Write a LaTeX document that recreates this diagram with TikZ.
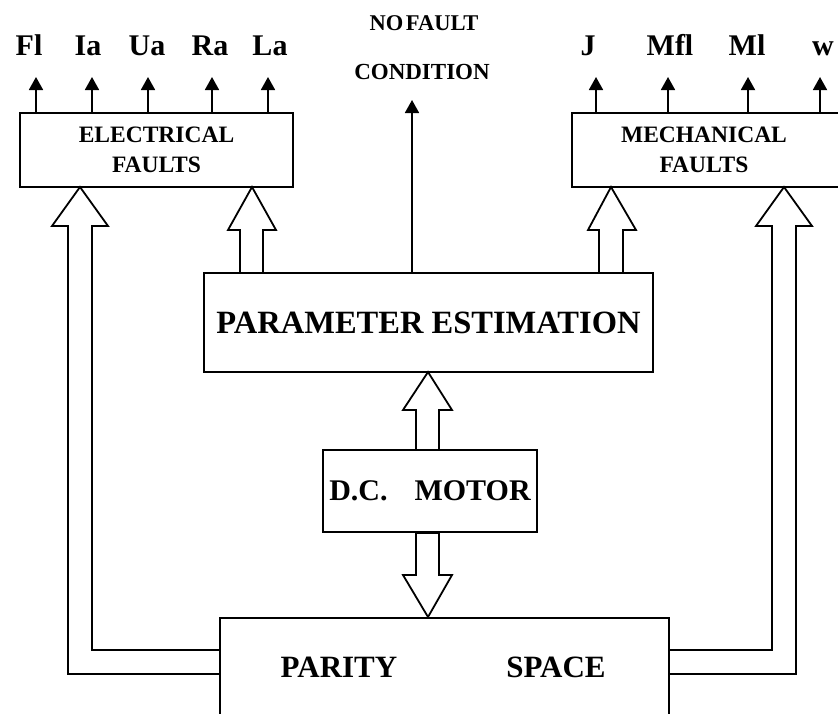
\documentclass[tikz,border=0pt]{standalone}
\usepackage{fontspec}
\setmainfont{Liberation Serif}
\usetikzlibrary{arrows.meta}
\tikzset{
  box/.style={draw, line width=1.8pt, inner sep=0pt, align=center, font=\bfseries},
  lbl/.style={inner sep=0pt, anchor=base, font=\bfseries\fontsize{30}{36}\selectfont},
  smallarr/.style={line width=1.8pt, -{Triangle[length=13pt,width=14pt]}},
  hollow/.style={line width=1.8pt, line join=miter},
}
\begin{document}
\begin{tikzpicture}[x=1pt,y=-1pt]
\useasboundingbox (0,0) rectangle (838,713);
% boxes
\node[box, minimum width=273pt, minimum height=74pt, font=\bfseries\fontsize{23.5}{30}\selectfont] (elec) at (156.5,150) {ELECTRICAL\\FAULTS};
\node[box, minimum width=284pt, minimum height=74pt] (mech) at (714,150) {};
\node[align=center, inner sep=0pt, font=\bfseries\fontsize{23.5}{30}\selectfont] (mechtxt) at (704,150) {MECHANICAL\\FAULTS};
\node[box, minimum width=449pt, minimum height=99pt, font=\bfseries\fontsize{32.5}{38}\selectfont] (param) at (428.5,322.5) {PARAMETER ESTIMATION};
\node[box, minimum width=214pt, minimum height=82pt, font=\bfseries\fontsize{30}{36}\selectfont] (motor) at (430,491) {D.C.\hspace{0.9em}MOTOR};
\node[box, minimum width=449pt, minimum height=130pt] (parity) at (444.5,683) {};
\node[inner sep=0pt, font=\bfseries\fontsize{31}{36}\selectfont] (tpar) at (339,667) {PARITY};
\node[inner sep=0pt, font=\bfseries\fontsize{31}{36}\selectfont] (tspa) at (556,667) {SPACE};
% top labels
\node[lbl] (lFl) at (29,55) {Fl};
\node[lbl] (lIa) at (88,55) {Ia};
\node[lbl] (lUa) at (147,55) {Ua};
\node[lbl] (lRa) at (210,55) {Ra};
\node[lbl] (lLa) at (270,55) {La};
\node[lbl] (lJ) at (588,55) {J};
\node[lbl] (lMfl) at (670,55) {Mfl};
\node[lbl] (lMl) at (747,55) {Ml};
\node[lbl] (lw) at (823,55) {w};
\node[inner sep=0pt, font=\bfseries\fontsize{22.5}{28}\selectfont] (nf1) at (424,23) {NO\hspace{0.12em}FAULT};
\node[inner sep=0pt, font=\bfseries\fontsize{23}{28}\selectfont] (nf2) at (422,72) {CONDITION};
% small arrows
\foreach \x in {36,92,148,212,268}
  \draw[smallarr] (elec.north -| \x,0) -- (\x,77);
\foreach \x in {596,668,748,820}
  \draw[smallarr] (mech.north -| \x,0) -- (\x,77);
\coordinate (nftip) at (412,100);
\draw[smallarr] (param.north -| nftip) -- (nftip);
% hollow arrows: parity -> electrical
\draw[hollow] (parity.west |- 0,650) -- (92,650) -- (92,226) -- (108,226) -- (80,187) -- (52,226) -- (68,226) -- (68,674) -- (parity.west |- 0,674);
% parity -> mechanical
\draw[hollow] (parity.east |- 0,650) -- (772,650) -- (772,226) -- (756,226) -- (784,187) -- (812,226) -- (796,226) -- (796,674) -- (parity.east |- 0,674);
% parameter -> electrical
\draw[hollow] (param.north -| 240,0) -- (240,230) -- (228,230) -- (252,187) -- (276,230) -- (263,230) -- (param.north -| 263,0);
% parameter -> mechanical
\draw[hollow] (param.north -| 599,0) -- (599,230) -- (588,230) -- (611,187) -- (636,230) -- (623,230) -- (param.north -| 623,0);
% motor -> parameter
\draw[hollow] (motor.north -| 416,0) -- (416,410) -- (403,410) -- (428,372) -- (452,410) -- (439,410) -- (motor.north -| 439,0);
% motor -> parity
\draw[hollow] (motor.south -| 416,0) -- (416,575) -- (403,575) -- (428,617) -- (452,575) -- (439,575) -- (motor.south -| 439,0) -- cycle;
\end{tikzpicture}
\end{document}
